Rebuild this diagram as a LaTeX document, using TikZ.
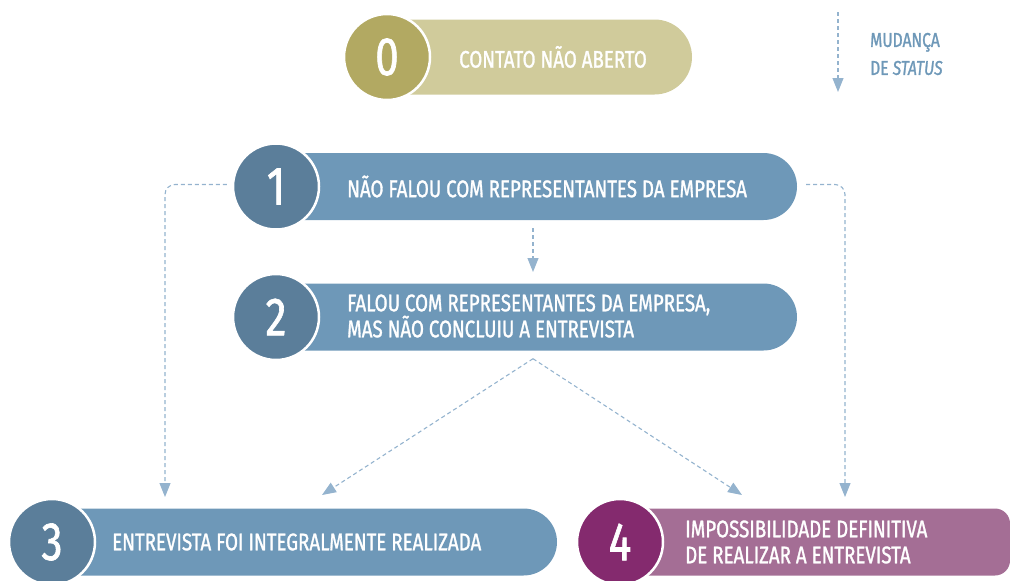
\documentclass[tikz,border=0pt]{standalone}
\usepackage{fontspec}
\usepackage{tikz}
\usetikzlibrary{arrows.meta,positioning,shapes.misc}
\newfontfamily\dinfont[FakeStretch=0.78,FakeBold=1.2]{Fira Sans}

\definecolor{olivedark}{HTML}{B2A962}
\definecolor{olivelight}{HTML}{D0CB9B}
\definecolor{bluedark}{HTML}{5B7E9A}
\definecolor{bluelight}{HTML}{6E98B8}
\definecolor{purpledark}{HTML}{842A6E}
\definecolor{purplelight}{HTML}{A46E95}
\definecolor{arrowblue}{HTML}{94B3CE}

\tikzset{
  stagenum/.style={circle, draw=white, line width=2.5pt, minimum size=86pt, inner sep=0pt,
    text=white, font=\dinfont\fontsize{54}{54}\selectfont},
  stagebar/.style={rounded rectangle, rounded rectangle left arc=none, minimum height=67pt, inner sep=0pt},
  bartext/.style={anchor=west, inner sep=0pt, align=left, text=white,
    font=\dinfont\fontsize{24}{26}\selectfont},
  statusarrow/.style={draw=arrowblue, line width=1.1pt, dash pattern=on 4pt off 3pt,
    rounded corners=10pt, -{Triangle[width=11pt,length=14pt]}},
}

\begin{document}
\begin{tikzpicture}[x=1pt,y=-1pt]
\clip (0,0) rectangle (1010,581);

% bars
\node[stagebar, fill=olivelight, minimum width=302pt, minimum height=75pt] (b0) at (541,57) {};
\node[stagebar, fill=bluelight, minimum width=528pt] (b1) at (533,186.5) {};
\node[stagebar, fill=bluelight, minimum width=528pt] (b2) at (533,317) {};
\node[stagebar, fill=bluelight, minimum width=505pt] (b3) at (304.5,542) {};
\node[rectangle, rounded corners=15pt, fill=purplelight, minimum width=390pt, minimum height=67pt, inner sep=0pt] (b4) at (815,542) {};

% numbers
\node[stagenum, fill=olivedark] (n0) at (387,57) {0};
\node[stagenum, fill=bluedark] (n1) at (276,186.5) {1};
\node[stagenum, fill=bluedark] (n2) at (276,317) {2};
\node[stagenum, fill=bluedark] (n3) at (52,542) {3};
\node[stagenum, fill=purpledark] (n4) at (620,542) {4};

% texts
\node[bartext] (t0) at (459,57) {CONTATO NÃO ABERTO};
\node[bartext] (t1) at (347,186.5) {NÃO FALOU COM REPRESENTANTES DA EMPRESA};
\node[bartext] (t2) at (347,316) {FALOU COM REPRESENTANTES DA EMPRESA,\\MAS NÃO CONCLUIU A ENTREVISTA};
\node[bartext] (t3) at (112,542) {ENTREVISTA FOI INTEGRALMENTE REALIZADA};
\node[bartext] (t4) at (685,542) {IMPOSSIBILIDADE DEFINITIVA\\DE REALIZAR A ENTREVISTA};

% arrow ends
\coordinate (to3a) at (165,497);
\coordinate (to3b) at (322,495);
\coordinate (to4a) at (742,495);
\coordinate (to4b) at (845,497);
\coordinate (to2) at (533,272);

% status changes
\draw[statusarrow] (n1.west) ++(-5,-2) -| (to3a);
\draw[statusarrow] (b1.east) ++(9,-2) -| (to4b);
\draw[statusarrow] (b1.south) ++(0,8) -- (to2);
\draw[statusarrow] (b2.south) ++(0,8) -- (to3b);
\draw[statusarrow] (b2.south) ++(0,8) -- (to4a);

% legend
\coordinate (legtop) at (838,12);
\coordinate (legend) at (838,92);
\draw[statusarrow] (legtop) -- (legend);
\node[bartext, text=bluelight, font=\dinfont\fontsize{20}{28}\selectfont] (leg) at (870,54)
  {MUDANÇA\\DE {\itshape STATUS}};
\end{tikzpicture}
\end{document}
